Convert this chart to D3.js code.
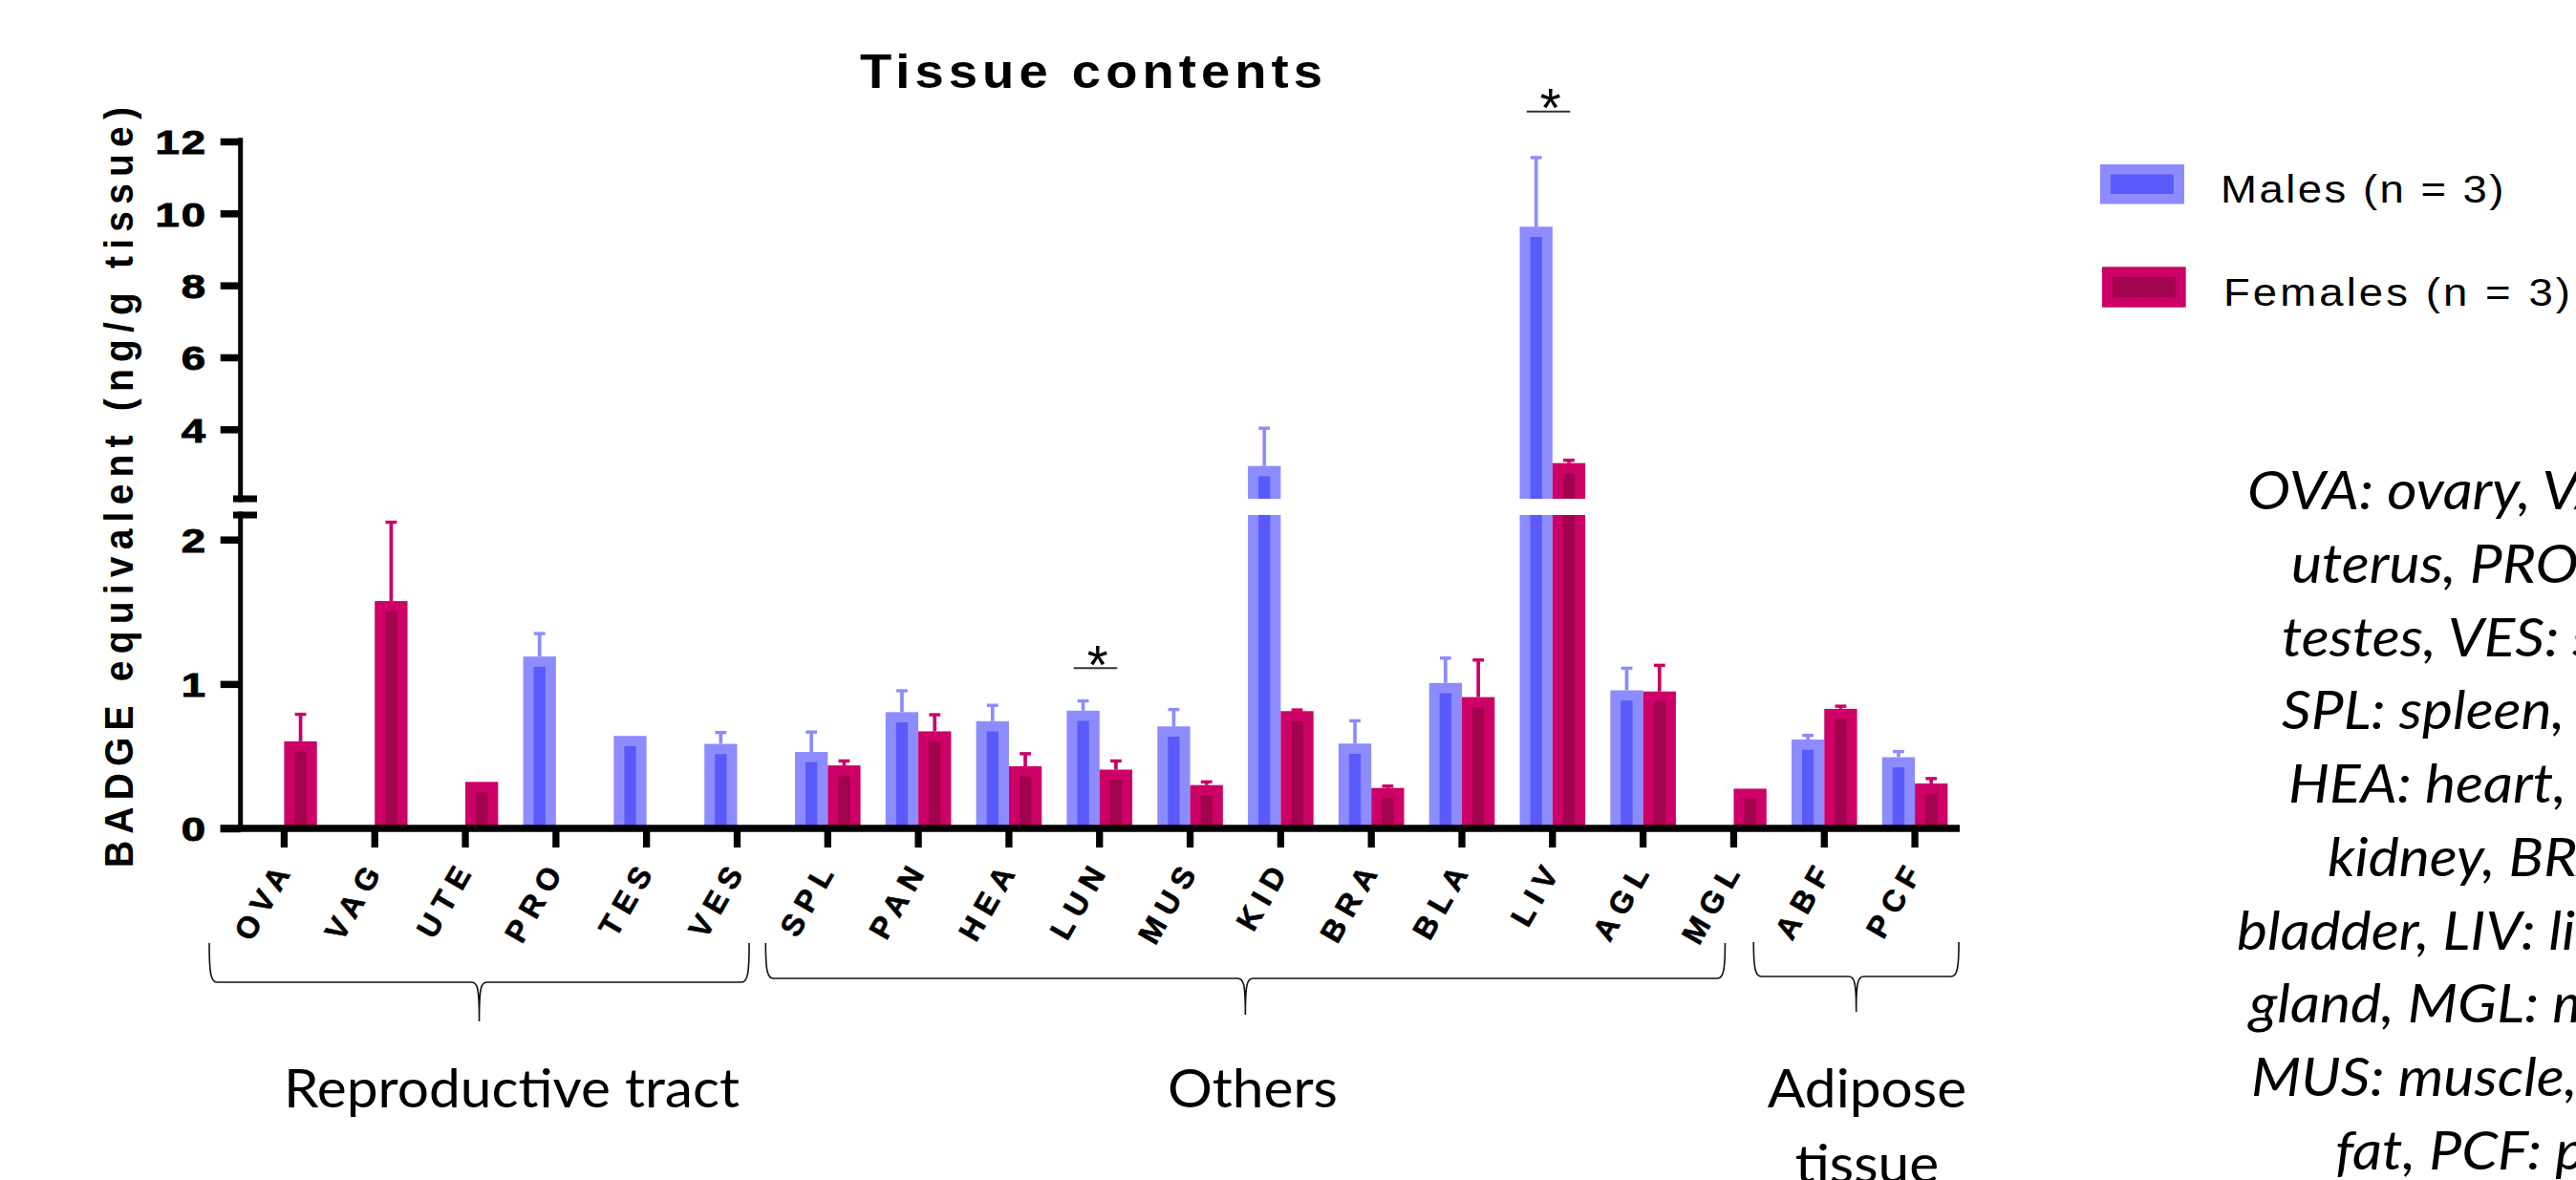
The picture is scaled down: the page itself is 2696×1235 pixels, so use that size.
<!DOCTYPE html>
<html>
<head>
<meta charset="utf-8">
<script src="https://cdn.jsdelivr.net/npm/d3@7/dist/d3.min.js"></script>
<style>
html,body{margin:0;padding:0;background:#fff;overflow:hidden;}
svg{display:block;}
</style>
</head>
<body>
<svg id="chart" width="2696" height="1235"></svg>
<script>
// ---------------- DATA ----------------
const categories = ["OVA","VAG","UTE","PRO","TES","VES","SPL","PAN","HEA","LUN","MUS","KID","BRA","BLA","LIV","AGL","MGL","ABF","PCF"];
const maleMean   = [null,null,null,1.19,0.64,0.585,0.529,0.805,0.742,0.815,0.706,2.98,0.587,1.007,9.63,0.956,null,0.615,0.493];
const maleErrTop = [null,null,null,1.349,null,0.664,0.667,0.953,0.852,0.883,0.823,4.03,0.745,1.179,11.55,1.109,null,0.644,0.532];
const femaleMean   = [0.603,1.574,0.322,null,null,null,0.436,0.672,0.43,0.407,0.30,0.812,0.28,0.909,3.06,0.948,0.275,0.828,0.311];
const femaleErrTop = [0.79,2.12,null,null,null,null,0.467,0.787,0.517,0.467,0.322,0.82,0.293,1.166,3.14,1.129,null,0.846,0.345];
const seriesNames = ["Males (n = 3)","Females (n = 3)"];
const upperTicks = [4,6,8,10,12];
const lowerTicks = [0,1,2];
const chartTitle = "Tissue contents";
const yTitle = "BADGE equivalent (ng/g tissue)";
const groupNames = [["Reproductive tract"],["Others"],["Adipose","tissue"]];
const groupFirst = ["OVA","SPL","ABF"];
const groupLast  = ["VES","MGL","PCF"];
const significance = [{cat:"LUN", level:1.11},{cat:"LIV", level:12.83}];
const noteLines = [
  "OVA: ovary, VAG: vagina, UTE:",
  "uterus, PRO: prostate, TES:",
  "testes, VES: seminal vesicle,",
  "SPL: spleen, PAN: pancreas,",
  "HEA: heart, LUN: lung, KID:",
  "kidney, BRA: brain, BLA:",
  "bladder, LIV: liver, AGL: adrenal",
  "gland, MGL: mammary gland,",
  "MUS: muscle, ABF: abdominal",
  "fat, PCF: pericardial fat"
];

// ---------------- LAYOUT ----------------
const colors = {
  male:   {outer:"#8c8cff", inner:"#5a5afa"},
  female: {outer:"#cc0066", inner:"#a1034d"}
};
const gpFont = "'Liberation Sans', Arial, sans-serif";
const calFont = "Lato, 'Open Sans', sans-serif";

const svg = d3.select("#chart");

const x = d3.scaleBand().domain(categories).range([250, 2051.5]).padding(0);
const cx = c => x(c) + x.bandwidth()/2;
const barW = 34.3;

const LOW_MAX = 2.17, UP_MIN = 2.07;
const yLow = d3.scaleLinear().domain([0, LOW_MAX]).range([867, 539]);
const yUp  = d3.scaleLinear().domain([UP_MIN, 12]).range([522, 148]);
const yv = v => v <= LOW_MAX ? yLow(v) : yUp(v);

const series = [
  {name:seriesNames[0], mean:maleMean, err:maleErrTop, col:colors.male, offset:-1},
  {name:seriesNames[1], mean:femaleMean, err:femaleErrTop, col:colors.female, offset:0}
];

// ---------------- BARS ----------------
const gBars = svg.append("g");
series.forEach(s => {
  categories.forEach((c,i) => {
    const v = s.mean[i];
    if (v == null) return;
    const x0 = cx(c) + s.offset*barW;
    const segs = v <= LOW_MAX
      ? [{top:yLow(v), bot:yLow(0), lid:true}]
      : [{top:yLow(LOW_MAX), bot:yLow(0), lid:false}, {top:yUp(v), bot:yUp(UP_MIN), lid:true}];
    segs.forEach(sg => {
      gBars.append("rect").attr("x",x0).attr("y",sg.top).attr("width",barW)
        .attr("height",sg.bot-sg.top).attr("fill",s.col.outer);
      const inset = sg.lid ? 10.7 : 0;
      gBars.append("rect").attr("x",x0+11).attr("y",sg.top+inset).attr("width",barW-22)
        .attr("height",Math.max(0,sg.bot-sg.top-inset)).attr("fill",s.col.inner);
    });
    const e = s.err[i];
    if (e != null) {
      const xm = x0 + barW/2;
      gBars.append("line").attr("x1",xm).attr("x2",xm).attr("y1",yv(v)).attr("y2",yv(e))
        .attr("stroke",s.col.outer).attr("stroke-width",3.7);
      gBars.append("rect").attr("x",xm-5.9).attr("y",yv(e)-1.7).attr("width",11.8).attr("height",3.4)
        .attr("fill",s.col.outer);
    }
  });
});

// ---------------- AXES ----------------
const axX = 251.7;
const gAx = svg.append("g");
gAx.append("line").attr("x1",axX).attr("x2",axX).attr("y1",yUp(12)-3.8).attr("y2",yUp(UP_MIN)+3.5)
  .attr("stroke","#000").attr("stroke-width",5);
gAx.append("line").attr("x1",axX).attr("x2",axX).attr("y1",yLow(LOW_MAX)-3.5).attr("y2",yLow(0))
  .attr("stroke","#000").attr("stroke-width",5);
[yUp(UP_MIN), yLow(LOW_MAX)].forEach(yy => {
  gAx.append("rect").attr("x",244).attr("y",yy-3.5).attr("width",25).attr("height",7).attr("fill","#000");
});

function styleYAxis(g){
  g.select(".domain").remove();
  g.selectAll(".tick line").attr("stroke","#000").attr("stroke-width",7.5);
  g.selectAll(".tick text")
    .attr("x",0).attr("dy","0.37em")
    .attr("font-family",gpFont).attr("font-weight","bold").attr("font-size",35)
    .attr("letter-spacing",1.5).attr("fill","#000").attr("stroke","#000").attr("stroke-width",0.9)
    .attr("text-anchor","end")
    .attr("transform",`translate(${215-axX+2},0) scale(1.3,1)`);
}
gAx.append("g").attr("transform",`translate(${axX},0)`)
  .call(d3.axisLeft(yUp).tickValues(upperTicks).tickSize(21).tickFormat(d3.format("d")))
  .call(styleYAxis);
gAx.append("g").attr("transform",`translate(${axX},0)`)
  .call(d3.axisLeft(yLow).tickValues(lowerTicks).tickSize(21).tickFormat(d3.format("d")))
  .call(styleYAxis);

const gX = gAx.append("g").attr("transform",`translate(0,${yLow(0)})`)
  .call(d3.axisBottom(x).tickSize(20).tickSizeOuter(0).tickFormat(""));
gX.select(".domain").remove();
gX.selectAll(".tick line").attr("stroke","#000").attr("stroke-width",7.3);
gAx.append("line").attr("x1",230.7).attr("x2",2051).attr("y1",yLow(0)).attr("y2",yLow(0))
  .attr("stroke","#000").attr("stroke-width",7.3);

// x tick labels, rotated 60 degrees
const xlSpacing = 8;
const gXL = svg.append("g");
categories.forEach(c => {
  gXL.append("text")
    .attr("transform",`translate(${cx(c)+7},915) rotate(-60)`)
    .attr("x",xlSpacing).attr("text-anchor","end")
    .attr("font-family",gpFont).attr("font-weight","bold").attr("font-size",32)
    .attr("letter-spacing",xlSpacing).attr("fill","#000").attr("stroke","#000").attr("stroke-width",0.6)
    .text(c);
});

// y title
const yt = svg.append("text")
  .attr("transform",`translate(139,908) scale(1.07,1) rotate(-90)`)
  .attr("font-family",gpFont).attr("font-weight","bold").attr("font-size",39)
  .attr("fill","#000").text(yTitle);
{
  const L0 = yt.node().getComputedTextLength();
  yt.attr("letter-spacing", (796 - L0) / (yTitle.length - 1));
}

// title
const tt = svg.append("text").attr("x",900).attr("y",92)
  .attr("font-family",gpFont).attr("font-weight","bold").attr("font-size",50)
  .attr("fill","#000").text(chartTitle);
{
  const L0 = tt.node().getComputedTextLength();
  tt.attr("letter-spacing", (489/1.1 - L0) / (chartTitle.length - 1))
    .attr("textLength",489).attr("lengthAdjust","spacingAndGlyphs");
}

// ---------------- SIGNIFICANCE ----------------
significance.forEach(sg => {
  const t = cx(sg.cat);
  const yy = yv(sg.level);
  svg.append("line").attr("x1",t-27).attr("x2",t+18.5).attr("y1",yy).attr("y2",yy)
    .attr("stroke","#333").attr("stroke-width",2);
  const st = svg.append("text").attr("x",0).attr("y",0)
    .attr("font-family",gpFont).attr("font-size",50).attr("fill","#000").text("*");
  let bb = st.node().getBBox();
  st.attr("font-size", 50*22/bb.width);
  bb = st.node().getBBox();
  const tx = t-2, ty = yy-17.5;
  st.attr("x", tx - (bb.x + bb.width/2)).attr("y", ty - (bb.y + bb.height*0.27));
});

// ---------------- LEGEND ----------------
const legendItems = [
  {s:series[0], box:[2198,172,88,41.5], text:[2324,212,299]},
  {s:series[1], box:[2200,279.3,87.7,42.4], text:[2327,320,366]}
];
legendItems.forEach(li => {
  const [bx,by,bw,bh] = li.box;
  svg.append("rect").attr("x",bx).attr("y",by).attr("width",bw).attr("height",bh).attr("fill",li.s.col.outer);
  svg.append("rect").attr("x",bx+11).attr("y",by+10.5).attr("width",bw-22).attr("height",bh-21).attr("fill",li.s.col.inner);
  const [tx,ty,tw] = li.text;
  const lt = svg.append("text").attr("x",tx).attr("y",ty)
    .attr("font-family",gpFont).attr("font-size",41)
    .attr("fill","#000").text(li.s.name);
  const L0 = lt.node().getComputedTextLength();
  lt.attr("letter-spacing", (tw/1.12 - L0) / (li.s.name.length - 1))
    .attr("textLength",tw).attr("lengthAdjust","spacingAndGlyphs");
});

// ---------------- CALIBRI-LIKE TEXT ----------------
function measure(str, italic, size){
  const p = svg.append("text").attr("font-family",calFont).attr("font-size",size)
    .attr("font-style", italic ? "italic" : "normal").text(str);
  const L = p.node().getComputedTextLength(); p.remove(); return L;
}
const CAL_SIZE = 57;
const ratioReg = 477 / measure(groupNames[0][0], false, CAL_SIZE);
const ratioIt  = 780 / measure(noteLines[6], true, CAL_SIZE);
function calText(xp, yp, str, italic, anchor){
  const t = svg.append("text").attr("x",xp).attr("y",yp)
    .attr("font-family",calFont).attr("font-size",CAL_SIZE)
    .attr("font-style", italic ? "italic" : "normal")
    .attr("text-anchor",anchor).attr("fill","#000").text(str);
  const L = t.node().getComputedTextLength();
  t.attr("textLength", L*(italic ? ratioIt : ratioReg)).attr("lengthAdjust","spacingAndGlyphs");
  return t;
}

const braceOff = [[-78.4,12.6],[-65,-9],[-74,46]];
const braceY = [[987,1028,1069],[987,1024,1062],[986,1022,1059]];
const labelCx = [535.5,1311,1954];
function bracePath(x0,x1,yT,yB,yTip){
  const xm=(x0+x1)/2;
  return `M${x0},${yT} C${x0},${yB-10} ${x0+1.5},${yB} ${x0+8},${yB} L${xm-8},${yB} C${xm-2},${yB} ${xm},${yB+5} ${xm},${yTip}`+
         ` M${xm},${yTip} C${xm},${yB+5} ${xm+2},${yB} ${xm+8},${yB} L${x1-8},${yB} C${x1-1.5},${yB} ${x1},${yB-10} ${x1},${yT}`;
}
groupNames.forEach((lines,gi) => {
  const x0 = cx(groupFirst[gi]) + braceOff[gi][0];
  const x1 = cx(groupLast[gi]) + braceOff[gi][1];
  const [yT,yB,yTip] = braceY[gi];
  svg.append("path").attr("d",bracePath(x0,x1,yT,yB,yTip))
    .attr("fill","none").attr("stroke","#111").attr("stroke-width",1.6);
  lines.forEach((ln,k) => calText(labelCx[gi], 1159 + k*79, ln, false, "middle"));
});

const noteStartX = [2352,2398,2388,2388,2395,2436,2341,2354,2356,2444];
noteLines.forEach((ln,k) => calText(noteStartX[k], 533.3 + k*76.7, ln, true, "start"));
</script>
</body>
</html>
